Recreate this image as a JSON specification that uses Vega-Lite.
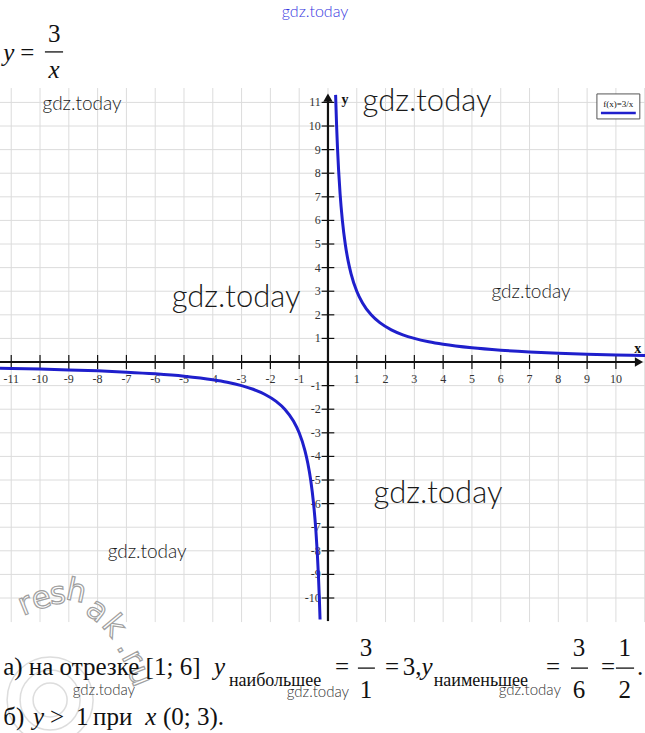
{
  "$schema": "https://vega.github.io/schema/vega-lite/v6.json",
  "width": 645,
  "height": 733,
  "autosize": {"type": "none"},
  "padding": 0,
  "background": "white",
  "config": {"view": {"stroke": null}},
  "datasets": {
    "curve": [
      {"b": "pos", "x": 0.265, "y": 11.32}, {"b": "pos", "x": 0.3, "y": 10}, {"b": "pos", "x": 0.33, "y": 9.09},
      {"b": "pos", "x": 0.37, "y": 8.11}, {"b": "pos", "x": 0.42, "y": 7.14}, {"b": "pos", "x": 0.5, "y": 6},
      {"b": "pos", "x": 0.6, "y": 5}, {"b": "pos", "x": 0.7, "y": 4.286}, {"b": "pos", "x": 0.8, "y": 3.75},
      {"b": "pos", "x": 1, "y": 3}, {"b": "pos", "x": 1.2, "y": 2.5}, {"b": "pos", "x": 1.5, "y": 2},
      {"b": "pos", "x": 1.8, "y": 1.667}, {"b": "pos", "x": 2.2, "y": 1.364}, {"b": "pos", "x": 2.6, "y": 1.154},
      {"b": "pos", "x": 3, "y": 1}, {"b": "pos", "x": 3.5, "y": 0.857}, {"b": "pos", "x": 4, "y": 0.75},
      {"b": "pos", "x": 5, "y": 0.6}, {"b": "pos", "x": 6, "y": 0.5}, {"b": "pos", "x": 7, "y": 0.4286},
      {"b": "pos", "x": 8, "y": 0.375}, {"b": "pos", "x": 9, "y": 0.3333}, {"b": "pos", "x": 10, "y": 0.3},
      {"b": "pos", "x": 11.01, "y": 0.2725},
      {"b": "neg", "x": -11.39, "y": -0.2634}, {"b": "neg", "x": -10, "y": -0.3}, {"b": "neg", "x": -9, "y": -0.3333},
      {"b": "neg", "x": -8, "y": -0.375}, {"b": "neg", "x": -7, "y": -0.4286}, {"b": "neg", "x": -6, "y": -0.5},
      {"b": "neg", "x": -5, "y": -0.6}, {"b": "neg", "x": -4, "y": -0.75}, {"b": "neg", "x": -3.5, "y": -0.857},
      {"b": "neg", "x": -3, "y": -1}, {"b": "neg", "x": -2.6, "y": -1.154}, {"b": "neg", "x": -2.2, "y": -1.364},
      {"b": "neg", "x": -1.8, "y": -1.667}, {"b": "neg", "x": -1.5, "y": -2}, {"b": "neg", "x": -1.2, "y": -2.5},
      {"b": "neg", "x": -1, "y": -3}, {"b": "neg", "x": -0.8, "y": -3.75}, {"b": "neg", "x": -0.7, "y": -4.286},
      {"b": "neg", "x": -0.6, "y": -5}, {"b": "neg", "x": -0.5, "y": -6}, {"b": "neg", "x": -0.42, "y": -7.14},
      {"b": "neg", "x": -0.37, "y": -8.11}, {"b": "neg", "x": -0.33, "y": -9.09}, {"b": "neg", "x": -0.3, "y": -10},
      {"b": "neg", "x": -0.275, "y": -10.91}
    ],
    "gridx": [
      {"g": -11}, {"g": -10}, {"g": -9}, {"g": -8}, {"g": -7}, {"g": -6}, {"g": -5}, {"g": -4}, {"g": -3}, {"g": -2}, {"g": -1},
      {"g": 0}, {"g": 1}, {"g": 2}, {"g": 3}, {"g": 4}, {"g": 5}, {"g": 6}, {"g": 7}, {"g": 8}, {"g": 9}, {"g": 10}, {"g": 11}
    ],
    "gridy": [
      {"g": -10}, {"g": -9}, {"g": -8}, {"g": -7}, {"g": -6}, {"g": -5}, {"g": -4}, {"g": -3}, {"g": -2}, {"g": -1},
      {"g": 0}, {"g": 1}, {"g": 2}, {"g": 3}, {"g": 4}, {"g": 5}, {"g": 6}, {"g": 7}, {"g": 8}, {"g": 9}, {"g": 10}, {"g": 11}
    ],
    "xticks": [
      {"v": "-11", "g": -11}, {"v": "-10", "g": -10}, {"v": "-9", "g": -9}, {"v": "-8", "g": -8}, {"v": "-7", "g": -7},
      {"v": "-6", "g": -6}, {"v": "-5", "g": -5}, {"v": "-4", "g": -4}, {"v": "-3", "g": -3}, {"v": "-2", "g": -2},
      {"v": "-1", "g": -1}, {"v": "1", "g": 1}, {"v": "2", "g": 2}, {"v": "3", "g": 3}, {"v": "4", "g": 4},
      {"v": "5", "g": 5}, {"v": "6", "g": 6}, {"v": "7", "g": 7}, {"v": "8", "g": 8}, {"v": "9", "g": 9}, {"v": "10", "g": 10}
    ],
    "yticks": [
      {"v": "-10", "g": -10}, {"v": "-9", "g": -9}, {"v": "-8", "g": -8}, {"v": "-7", "g": -7}, {"v": "-6", "g": -6},
      {"v": "-5", "g": -5}, {"v": "-4", "g": -4}, {"v": "-3", "g": -3}, {"v": "-2", "g": -2}, {"v": "-1", "g": -1},
      {"v": "1", "g": 1}, {"v": "2", "g": 2}, {"v": "3", "g": 3}, {"v": "4", "g": 4}, {"v": "5", "g": 5},
      {"v": "6", "g": 6}, {"v": "7", "g": 7}, {"v": "8", "g": 8}, {"v": "9", "g": 9}, {"v": "10", "g": 10}, {"v": "11", "g": 11}
    ]
  },
  "layer": [
    {
      "data": {"name": "gridx"},
      "mark": {"type": "rule", "color": "#dcdcdc", "strokeWidth": 1},
      "encoding": {
        "x": {"field": "g", "type": "quantitative", "scale": {"domain": [-11.39, 11.01], "nice": false, "zero": false}, "axis": null},
        "y": {"datum": -11.02, "type": "quantitative", "scale": {"domain": [-15.72, 15.34], "nice": false, "zero": false}, "axis": null},
        "y2": {"datum": 11.61}
      }
    },
    {
      "data": {"name": "gridy"},
      "mark": {"type": "rule", "color": "#dcdcdc", "strokeWidth": 1},
      "encoding": {
        "y": {"field": "g", "type": "quantitative"},
        "x": {"datum": -11.39, "type": "quantitative"},
        "x2": {"datum": 11.01}
      }
    },
    {
      "data": {"values": [{"r": 1156}, {"r": 3600}, {"r": 7396}]},
      "mark": {"type": "point", "shape": "circle", "filled": false, "stroke": "#cfcfcf", "strokeWidth": 1.5},
      "encoding": {
        "x": {"datum": -9.65, "type": "quantitative"},
        "y": {"datum": -14.32, "type": "quantitative"},
        "size": {"field": "r", "type": "quantitative", "scale": null}
      }
    },
    {
      "data": {"values": [
        {"c": "r", "x": -10.5, "y": -10.3, "a": -22}, {"c": "e", "x": -9.95, "y": -10.05, "a": -15},
        {"c": "s", "x": -9.38, "y": -9.85, "a": -5}, {"c": "h", "x": -8.74, "y": -9.75, "a": 12},
        {"c": "a", "x": -8.02, "y": -10.55, "a": 38}, {"c": "k", "x": -7.45, "y": -11.2, "a": 50},
        {"c": ".", "x": -7.0, "y": -12.05, "a": 60}, {"c": "r", "x": -6.8, "y": -12.55, "a": 62},
        {"c": "u", "x": -6.55, "y": -13.3, "a": 68}
      ]},
      "mark": {"type": "text", "font": "DejaVu Sans", "fontSize": 31, "fill": "white", "stroke": "#a0a0a0", "strokeWidth": 1.2, "baseline": "middle", "align": "center"},
      "encoding": {
        "x": {"field": "x", "type": "quantitative"},
        "y": {"field": "y", "type": "quantitative"},
        "text": {"field": "c"},
        "angle": {"field": "a", "type": "quantitative", "scale": null}
      }
    },
    {
      "data": {"values": [{"t": "gdz.today", "x": 3.44, "y": 11.02}, {"t": "gdz.today", "x": -3.19, "y": 2.71}, {"t": "gdz.today", "x": 3.82, "y": -5.59}]},
      "mark": {"type": "text", "font": "Lato", "fontWeight": 300, "fontSize": 31, "color": "#1a1a1a", "baseline": "middle", "align": "center"},
      "encoding": {"x": {"field": "x", "type": "quantitative"}, "y": {"field": "y", "type": "quantitative"}, "text": {"field": "t"}}
    },
    {
      "data": {"values": [{"t": "gdz.today", "x": -8.54, "y": 10.93}, {"t": "gdz.today", "x": 7.05, "y": 2.97}, {"t": "gdz.today", "x": -6.28, "y": -8.05}]},
      "mark": {"type": "text", "font": "Lato", "fontWeight": 300, "fontSize": 19, "color": "#1a1a1a", "baseline": "middle", "align": "center"},
      "encoding": {"x": {"field": "x", "type": "quantitative"}, "y": {"field": "y", "type": "quantitative"}, "text": {"field": "t"}}
    },
    {
      "data": {"values": [{"t": "gdz.today", "x": -7.78, "y": -13.9}, {"t": "gdz.today", "x": -0.35, "y": -13.98}, {"t": "gdz.today", "x": 7.01, "y": -13.9}]},
      "mark": {"type": "text", "font": "Lato", "fontWeight": 300, "fontSize": 15, "color": "#333333", "baseline": "middle", "align": "center"},
      "encoding": {"x": {"field": "x", "type": "quantitative"}, "y": {"field": "y", "type": "quantitative"}, "text": {"field": "t"}}
    },
    {
      "data": {"values": [{"t": "gdz.today", "x": -0.45, "y": 14.83}]},
      "mark": {"type": "text", "font": "Lato", "fontWeight": 300, "fontSize": 16, "color": "#3535e0", "baseline": "middle", "align": "center"},
      "encoding": {"x": {"field": "x", "type": "quantitative"}, "y": {"field": "y", "type": "quantitative"}, "text": {"field": "t"}}
    },
    {
      "data": {"name": "xticks"},
      "mark": {"type": "rule", "color": "#111111", "strokeWidth": 1.2},
      "encoding": {"x": {"field": "g", "type": "quantitative"}, "y": {"datum": -0.3, "type": "quantitative"}, "y2": {"datum": 0.3}}
    },
    {
      "data": {"name": "yticks"},
      "mark": {"type": "rule", "color": "#111111", "strokeWidth": 1.2},
      "encoding": {"y": {"field": "g", "type": "quantitative"}, "x": {"datum": -0.22, "type": "quantitative"}, "x2": {"datum": 0.22}}
    },
    {
      "data": {"values": [{}]},
      "mark": {"type": "rule", "color": "#111111", "strokeWidth": 2.2},
      "encoding": {"y": {"datum": 0, "type": "quantitative"}, "x": {"datum": -11.39, "type": "quantitative"}, "x2": {"datum": 10.75}}
    },
    {
      "data": {"values": [{}]},
      "mark": {"type": "rule", "color": "#111111", "strokeWidth": 2.2},
      "encoding": {"x": {"datum": 0, "type": "quantitative"}, "y": {"datum": -10.97, "type": "quantitative"}, "y2": {"datum": 11.1}}
    },
    {
      "data": {"values": [{}]},
      "mark": {"type": "point", "shape": "triangle-right", "filled": true, "color": "#111111", "size": 90, "opacity": 1},
      "encoding": {"x": {"datum": 10.8, "type": "quantitative"}, "y": {"datum": 0, "type": "quantitative"}}
    },
    {
      "data": {"values": [{}]},
      "mark": {"type": "point", "shape": "triangle-up", "filled": true, "color": "#111111", "size": 90, "opacity": 1},
      "encoding": {"x": {"datum": 0, "type": "quantitative"}, "y": {"datum": 11.2, "type": "quantitative"}}
    },
    {
      "data": {"name": "xticks"},
      "mark": {"type": "text", "font": "Liberation Serif, Times New Roman, serif", "fontSize": 12, "color": "#333333", "baseline": "middle", "align": "center"},
      "encoding": {"x": {"field": "g", "type": "quantitative"}, "y": {"datum": -0.72, "type": "quantitative"}, "text": {"field": "v"}}
    },
    {
      "data": {"name": "yticks"},
      "mark": {"type": "text", "font": "Liberation Serif, Times New Roman, serif", "fontSize": 12, "color": "#333333", "baseline": "middle", "align": "right"},
      "encoding": {"y": {"field": "g", "type": "quantitative"}, "x": {"datum": -0.25, "type": "quantitative"}, "text": {"field": "v"}}
    },
    {
      "data": {"values": [{"t": "x", "x": 10.76, "y": 0.55}, {"t": "y", "x": 0.59, "y": 11.1}]},
      "mark": {"type": "text", "font": "Liberation Serif, Times New Roman, serif", "fontSize": 14, "fontWeight": "bold", "color": "#111111", "baseline": "middle", "align": "center"},
      "encoding": {"x": {"field": "x", "type": "quantitative"}, "y": {"field": "y", "type": "quantitative"}, "text": {"field": "t"}}
    },
    {
      "data": {"name": "curve"},
      "mark": {"type": "line", "color": "#1f1fcc", "strokeWidth": 3, "interpolate": "monotone"},
      "encoding": {
        "x": {"field": "x", "type": "quantitative"},
        "y": {"field": "y", "type": "quantitative"},
        "detail": {"field": "b"}
      }
    },
    {
      "data": {"values": [{}]},
      "mark": {"type": "rect", "fill": "white", "stroke": "#555555", "strokeWidth": 1},
      "encoding": {"x": {"datum": 9.34, "type": "quantitative"}, "x2": {"datum": 10.83}, "y": {"datum": 11.36, "type": "quantitative"}, "y2": {"datum": 10.3}}
    },
    {
      "data": {"values": [{"t": "f(x)=3/x"}]},
      "mark": {"type": "text", "font": "Liberation Serif, Times New Roman, serif", "fontSize": 9, "color": "#111111", "baseline": "middle", "align": "center"},
      "encoding": {"x": {"datum": 10.08, "type": "quantitative"}, "y": {"datum": 10.95, "type": "quantitative"}, "text": {"field": "t"}}
    },
    {
      "data": {"values": [{}]},
      "mark": {"type": "rule", "color": "#1f1fcc", "strokeWidth": 2.5},
      "encoding": {"x": {"datum": 9.48, "type": "quantitative"}, "x2": {"datum": 10.69}, "y": {"datum": 10.55, "type": "quantitative"}}
    },
    {
      "data": {"values": [
        {"t": "=", "x": -10.69, "y": 13.1},
        {"t": "а) на отрезке [1; 6]", "x": -11.28, "y": -12.92},
        {"t": "=", "x": 0.24, "y": -12.92},
        {"t": "=", "x": 1.98, "y": -12.92},
        {"t": "3,", "x": 2.6, "y": -12.92},
        {"t": "=", "x": 7.57, "y": -12.92},
        {"t": "=", "x": 9.48, "y": -12.92},
        {"t": ".", "x": 10.73, "y": -12.92},
        {"t": "б)", "x": -11.28, "y": -15.04},
        {"t": ">", "x": -9.65, "y": -15.04},
        {"t": "1", "x": -8.75, "y": -15.04},
        {"t": "при", "x": -8.16, "y": -15.04},
        {"t": "(0; 3).", "x": -5.73, "y": -15.04}
      ]},
      "mark": {"type": "text", "font": "Liberation Serif, Times New Roman, serif", "fontSize": 25, "color": "#111111", "baseline": "middle", "align": "left"},
      "encoding": {"x": {"field": "x", "type": "quantitative"}, "y": {"field": "y", "type": "quantitative"}, "text": {"field": "t"}}
    },
    {
      "data": {"values": [
        {"t": "y", "x": -11.28, "y": 13.1},
        {"t": "y", "x": -3.96, "y": -12.92},
        {"t": "y", "x": 3.25, "y": -12.92},
        {"t": "y", "x": -10.24, "y": -15.04},
        {"t": "x", "x": -6.35, "y": -15.04}
      ]},
      "mark": {"type": "text", "font": "Liberation Serif, Times New Roman, serif", "fontStyle": "italic", "fontSize": 25, "color": "#111111", "baseline": "middle", "align": "left"},
      "encoding": {"x": {"field": "x", "type": "quantitative"}, "y": {"field": "y", "type": "quantitative"}, "text": {"field": "t"}}
    },
    {
      "data": {"values": [
        {"t": "3", "x": -9.51, "y": 13.9},
        {"t": "3", "x": 1.32, "y": -12.12},
        {"t": "1", "x": 1.32, "y": -13.9},
        {"t": "3", "x": 8.72, "y": -12.12},
        {"t": "6", "x": 8.72, "y": -13.9},
        {"t": "1", "x": 10.31, "y": -12.12},
        {"t": "2", "x": 10.31, "y": -13.9}
      ]},
      "mark": {"type": "text", "font": "Liberation Serif, Times New Roman, serif", "fontSize": 25, "color": "#111111", "baseline": "middle", "align": "center"},
      "encoding": {"x": {"field": "x", "type": "quantitative"}, "y": {"field": "y", "type": "quantitative"}, "text": {"field": "t"}}
    },
    {
      "data": {"values": [{"t": "x", "x": -9.51, "y": 12.37}]},
      "mark": {"type": "text", "font": "Liberation Serif, Times New Roman, serif", "fontStyle": "italic", "fontSize": 25, "color": "#111111", "baseline": "middle", "align": "center"},
      "encoding": {"x": {"field": "x", "type": "quantitative"}, "y": {"field": "y", "type": "quantitative"}, "text": {"field": "t"}}
    },
    {
      "data": {"values": [
        {"t": "наибольшее", "x": -3.44, "y": -13.5},
        {"t": "наименьшее", "x": 3.67, "y": -13.5}
      ]},
      "mark": {"type": "text", "font": "Liberation Serif, Times New Roman, serif", "fontSize": 18, "color": "#111111", "baseline": "middle", "align": "left"},
      "encoding": {"x": {"field": "x", "type": "quantitative"}, "y": {"field": "y", "type": "quantitative"}, "text": {"field": "t"}}
    },
    {
      "data": {"values": [
        {"a": -9.83, "b": -9.2, "y": 13.14},
        {"a": 1.04, "b": 1.63, "y": -12.97},
        {"a": 8.44, "b": 9.03, "y": -12.97},
        {"a": 10.0, "b": 10.63, "y": -12.97}
      ]},
      "mark": {"type": "rule", "color": "#111111", "strokeWidth": 1.3},
      "encoding": {"x": {"field": "a", "type": "quantitative"}, "x2": {"field": "b"}, "y": {"field": "y", "type": "quantitative"}}
    }
  ]
}
